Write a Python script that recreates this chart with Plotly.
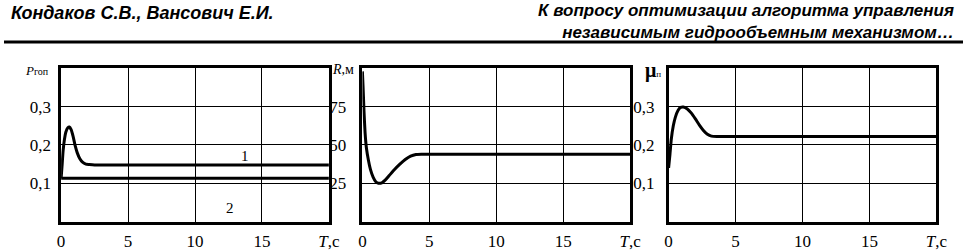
import plotly.graph_objects as go

# ---- data ----
x_ticks = [0, 5, 10, 15, 20]
x_ticktext = ["0", "5", "10", "15", "<i>T</i>,с"]

p_ticks = [0.1, 0.2, 0.3]
p_ticktext = ["0,1", "0,2", "0,3"]
r_ticks = [25, 50, 75]
r_ticktext = ["25", "50", "75"]
mu_ticks = [0.1, 0.2, 0.3]
mu_ticktext = ["0,1", "0,2", "0,3"]

t_p1 = [0, 0.08, 0.15, 0.25, 0.35, 0.5, 0.62, 0.75, 0.9, 1.05, 1.2, 1.4, 1.6, 1.85, 2.1, 2.5, 20]
p1 = [0.113, 0.15, 0.185, 0.215, 0.233, 0.245, 0.247, 0.24, 0.222, 0.198, 0.18, 0.164, 0.155, 0.15, 0.149, 0.148, 0.148]
t_p2 = [0, 20]
p2 = [0.113, 0.113]

t_r = [0, 0.05, 0.12, 0.2, 0.3, 0.45, 0.6, 0.8, 1.0, 1.2, 1.45, 1.7, 2.0, 2.4, 2.8, 3.2, 3.6, 4.0, 4.4, 20]
r = [98, 88, 72, 58, 48, 40, 34, 29, 26, 25, 25.3, 27, 30, 34, 37.5, 40.5, 42.7, 43.8, 44, 44]

t_mu = [0, 0.1, 0.2, 0.35, 0.5, 0.7, 0.9, 1.1, 1.4, 1.7, 2.0, 2.3, 2.6, 2.9, 3.2, 3.6, 20]
mu = [0.14, 0.175, 0.215, 0.25, 0.272, 0.29, 0.298, 0.299, 0.294, 0.283, 0.268, 0.252, 0.238, 0.228, 0.223, 0.222, 0.222]

W, H = 974, 251
serif = "Liberation Serif, Times New Roman, serif"
sans = "Liberation Sans, Arial, sans-serif"

fig = go.Figure()
line = dict(color="black", width=3, shape="spline", smoothing=0.5)
fig.add_trace(go.Scatter(x=t_p1, y=p1, mode="lines", line=line, xaxis="x", yaxis="y"))
fig.add_trace(go.Scatter(x=t_p2, y=p2, mode="lines", line=dict(color="black", width=3), xaxis="x", yaxis="y"))
fig.add_trace(go.Scatter(x=t_r, y=r, mode="lines", line=line, xaxis="x2", yaxis="y2"))
fig.add_trace(go.Scatter(x=t_mu, y=mu, mode="lines", line=line, xaxis="x3", yaxis="y3"))

ytop = 1 - 70 / H
ybot = 1 - 227 / H
doms = [(58, 330), (364, 636), (675, 947)]

def xax(d, anchor):
    return dict(domain=[d[0] / W, d[1] / W], range=[0, 20], tickvals=x_ticks, ticktext=x_ticktext,
                showgrid=True, gridcolor="black", gridwidth=1, zeroline=False,
                showline=True, linecolor="black", linewidth=2.5, mirror=True, ticks="",
                tickfont=dict(family=serif, size=17, color="black"), anchor=anchor,
                ticklabelstandoff=2)

def yax(rng, tv, tt, anchor, standoff):
    return dict(domain=[ybot, ytop], range=rng, tickvals=tv, ticktext=tt,
                showgrid=True, gridcolor="black", gridwidth=1, zeroline=False,
                showline=True, linecolor="black", linewidth=2.5, mirror=True, ticks="",
                tickfont=dict(family=serif, size=17, color="black"), anchor=anchor,
                ticklabelstandoff=standoff)

fig.update_layout(
    width=W, height=H, margin=dict(l=0, r=0, t=0, b=0),
    paper_bgcolor="white", plot_bgcolor="white", showlegend=False,
    xaxis=xax(doms[0], "y"), yaxis=yax([0, 0.4], p_ticks, p_ticktext, "x", 4),
    xaxis2=xax(doms[1], "y2"), yaxis2=yax([0, 100], r_ticks, r_ticktext, "x2", 10),
    xaxis3=xax(doms[2], "y3"), yaxis3=yax([0, 0.4], mu_ticks, mu_ticktext, "x3", 8),
)

hfont = dict(family=sans, size=18, color="black")
ann = [
    dict(x=5 / W, y=1 - 13 / H, text="<b><i>Кондаков С.В., Вансович Е.И.</i></b>", xanchor="left", font=hfont),
    dict(x=967 / W, y=1 - 22 / H,
         text="<b><i>К вопросу оптимизации алгоритма управления<br>независимым гидрообъемным механизмом…</i></b>",
         xanchor="right", align="right", font=dict(family=sans, size=17, color="black")),
    dict(x=48 / W, y=1 - 72 / H, text="<i>P</i><span style='font-size:10px'>гоп</span>", xanchor="right",
         font=dict(family=serif, size=13, color="black")),
    dict(x=358 / W, y=1 - 71 / H, text="<i>R</i>,м", xanchor="right",
         font=dict(family=serif, size=14, color="black")),
    dict(x=669 / W, y=1 - 72 / H, text="<b>μ</b><span style='font-size:9px'>п</span>", xanchor="right",
         font=dict(family=serif, size=20, color="black")),
    dict(x=13.75, y=0.17, xref="x", yref="y", text="1", font=dict(family=serif, size=15, color="black")),
    dict(x=12.6, y=0.035, xref="x", yref="y", text="2", font=dict(family=serif, size=15, color="black")),
]
for a in ann:
    a.setdefault("xref", "paper")
    a.setdefault("yref", "paper")
    a["showarrow"] = False
    a.setdefault("yanchor", "middle")
fig.update_layout(annotations=ann)

fig.add_shape(type="line", xref="paper", yref="paper", x0=0, x1=1, y0=1 - 43 / H, y1=1 - 43 / H,
              line=dict(color="black", width=3))

fig.write_html("out.html", config={"displayModeBar": False},
               post_script="document.body.style.margin='0';document.body.style.overflow='hidden';")
